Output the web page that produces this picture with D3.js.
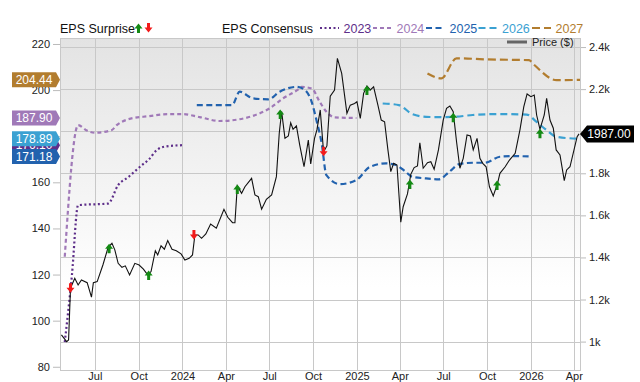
<!DOCTYPE html>
<html>
<head>
<meta charset="utf-8">
<script src="https://cdn.jsdelivr.net/npm/d3@7"></script>
<style>
  body { margin: 0; background: #fff; }
  svg { display: block; font-family: "Liberation Sans", Arial, sans-serif; }
  .axis text { font-size: 11px; fill: #222; }
  .axis path { display: none; }
  .axis line { stroke: #bbb; }
</style>
</head>
<body>
<div id="chart"></div>
<script>
// price series
var priceData = [
  ["2023-04-22",1032],["2023-05-03",1000],["2023-05-07",1008],["2023-05-11",1254],["2023-05-20",1301],
  ["2023-05-27",1269],["2023-06-03",1293],["2023-06-15",1280],["2023-06-24",1211],["2023-06-28",1280],
  ["2023-07-06",1285],["2023-07-18",1364],["2023-07-29",1448],["2023-08-06",1467],["2023-08-12",1436],
  ["2023-08-19",1372],["2023-08-27",1353],["2023-09-03",1360],["2023-09-12",1317],["2023-09-23",1372],
  ["2023-10-02",1364],["2023-10-11",1344],["2023-10-20",1317],["2023-10-27",1333],["2023-11-05",1432],
  ["2023-11-10",1412],["2023-11-17",1455],["2023-11-24",1439],["2023-12-01",1480],["2023-12-10",1439],
  ["2023-12-19",1432],["2023-12-29",1417],["2024-01-06",1388],["2024-01-15",1396],["2024-01-22",1412],
  ["2024-01-27",1507],["2024-02-03",1507],["2024-02-10",1491],["2024-02-19",1512],["2024-02-29",1559],
  ["2024-03-12",1539],["2024-03-28",1629],["2024-04-05",1591],["2024-04-15",1565],["2024-04-20",1565],
  ["2024-04-25",1740],["2024-05-04",1705],["2024-05-11",1736],["2024-05-25",1776],["2024-06-01",1697],
  ["2024-06-08",1689],["2024-06-15",1629],["2024-06-25",1676],["2024-07-06",1697],["2024-07-16",1784],
  ["2024-07-22",1990],["2024-07-27",2093],["2024-08-03",1966],["2024-08-10",1977],["2024-08-15",2040],
  ["2024-08-20",2009],["2024-08-27",2025],["2024-09-03",1934],["2024-09-12",1831],["2024-09-21",1958],
  ["2024-09-26",1844],["2024-10-04",1966],["2024-10-09",2006],["2024-10-16",2101],["2024-10-23",1902],
  ["2024-10-30",1930],["2024-11-06",2167],["2024-11-15",2196],["2024-11-21",2346],["2024-11-30",2275],
  ["2024-12-11",2085],["2024-12-18",2124],["2024-12-27",2132],["2025-01-01",2140],["2025-01-08",2061],
  ["2025-01-15",2180],["2025-01-22",2215],["2025-01-29",2196],["2025-02-05",2211],["2025-02-14",2124],
  ["2025-02-21",2053],["2025-02-28",2045],["2025-03-07",1911],["2025-03-13",1808],["2025-03-19",1847],
  ["2025-03-26",1839],["2025-04-03",1568],["2025-04-08",1641],["2025-04-17",1702],["2025-04-24",1795],
  ["2025-05-01",1827],["2025-05-08",1835],["2025-05-13",1945],["2025-05-20",1824],["2025-05-29",1850],
  ["2025-06-05",1855],["2025-06-12",1819],["2025-06-21",1911],["2025-07-01",2053],["2025-07-08",2109],
  ["2025-07-15",2120],["2025-07-22",2093],["2025-07-29",1950],["2025-08-05",1824],["2025-08-12",1871],
  ["2025-08-20",1982],["2025-08-27",1977],["2025-09-02",1911],["2025-09-10",1966],["2025-09-16",1871],
  ["2025-09-22",1847],["2025-09-29",1831],["2025-10-06",1736],["2025-10-14",1692],["2025-10-23",1752],
  ["2025-10-28",1800],["2025-11-08",1831],["2025-11-17",1863],["2025-11-29",1895],["2025-12-09",2006],
  ["2025-12-17",2116],["2025-12-24",2177],["2026-01-01",2164],["2026-01-08",2172],["2026-01-13",2077],
  ["2026-01-20",2009],["2026-01-29",2077],["2026-02-03",2156],["2026-02-10",2053],["2026-02-17",2014],
  ["2026-02-23",1911],["2026-03-03",1887],["2026-03-12",1765],["2026-03-17",1816],["2026-03-24",1831],
  ["2026-04-08",1974],["2026-04-12",1987]
];

// EPS consensus by fiscal year
var eps2023 = [["2023-04-29",90.7],["2023-05-14",119.7],["2023-05-27",150.1],["2023-07-29",150.8],
  ["2023-08-19",158.8],["2023-09-10",162.4],["2023-10-08",167.5],["2023-10-22",169.8],["2023-11-08",174.0],
  ["2023-11-25",175.5],["2023-12-31",176.1]];
var eps2024 = [["2023-04-29",127.7],["2023-05-27",184.8],["2023-06-13",182.6],["2023-07-01",181.5],
  ["2023-08-05",182.6],["2023-08-16",184.8],["2023-09-10",187.4],["2023-10-22",188.7],["2023-12-03",189.6],
  ["2023-12-31",189.6],["2024-02-06",188.3],["2024-03-19",186.6],["2024-04-28",187.3],["2024-05-26",188.7],
  ["2024-07-02",192.1],["2024-07-30",196.4],["2024-08-31",200.3],["2024-09-07",201.4],["2024-09-28",200.7],
  ["2024-10-15",194.9],["2024-10-29",190.6],["2024-11-15",188.2],["2024-12-31",187.9]];
var eps2025 = [["2024-01-31",193.5],["2024-04-14",193.5],["2024-04-30",199.3],["2024-05-28",196.4],
  ["2024-06-29",196.0],["2024-07-23",199.3],["2024-08-27",201.4],["2024-09-14",200.0],["2024-09-28",194.9],
  ["2024-10-08",187.0],["2024-10-19",176.9],["2024-10-29",163.1],["2024-11-26",159.2],["2024-12-31",161.0],
  ["2025-01-28",166.7],["2025-03-03",168.2],["2025-03-24",167.5],["2025-04-13",164.6],["2025-04-27",162.4],
  ["2025-05-26",161.7],["2025-06-22",161.3],["2025-07-14",164.6],["2025-08-04",167.9],["2025-09-01",168.5],
  ["2025-09-26",168.5],["2025-10-28",171.1],["2025-11-25",171.4],["2025-12-31",171.18]];
var eps2026 = [["2025-02-24",194.2],["2025-03-30",193.5],["2025-04-27",189.6],["2025-05-26",188.4],
  ["2025-06-22",188.3],["2025-07-22",188.4],["2025-09-01",189.2],["2025-10-28",189.6],["2025-12-23",189.4],
  ["2026-01-13",186.2],["2026-02-03",182.6],["2026-02-24",179.7],["2026-04-14",178.89]];
var eps2027 = [["2025-05-29",207.2],["2025-06-27",205.1],["2025-07-29",213.8],["2025-10-01",213.3],
  ["2025-12-28",213.0],["2026-01-06",211.3],["2026-02-24",204.3],["2026-04-14",204.44]];

// EPS surprises: date, price, direction
var surprises = [["2023-05-11",1254,"down"],["2023-07-31",1444,"up"],["2023-10-22",1317,"up"],
  ["2024-01-25",1507,"down"],["2024-04-25",1725,"up"],["2024-07-24",2082,"up"],["2024-10-23",1902,"down"],
  ["2025-01-22",2196,"up"],["2025-04-22",1749,"up"],["2025-07-22",2066,"up"],["2025-10-22",1744,"up"],
  ["2026-01-20",1990,"up"]];

var epsTicks = [80, 100, 120, 140, 160, 180, 200, 220];
var priceTicks = [1000, 1200, 1400, 1600, 1800, 2000, 2200, 2400];
var lastPrice = 1987.00;

// series styling
var series = [
  {name: "2023", data: eps2023, color: "#5e2f8a", dash: "2,2.5", label: 176.10},
  {name: "2024", data: eps2024, color: "#a079b8", dash: "4,3", label: 187.90},
  {name: "2025", data: eps2025, color: "#2262ae", dash: "6,3.5", label: 171.18},
  {name: "2026", data: eps2026, color: "#3ba1d2", dash: "7,4", label: 178.89},
  {name: "2027", data: eps2027, color: "#b27d2f", dash: "8,4", label: 204.44}
];

var W = 640, H = 382;
var plot = {left: 60, right: 580, top: 38, bottom: 370};
var parse = d3.timeParse("%Y-%m-%d");

var x = d3.scaleTime().domain([parse("2023-04-19"), parse("2026-04-14")]).range([plot.left, plot.right]);
var yP = d3.scaleLinear().domain([865, 2443]).range([plot.bottom, plot.top]);
var yE = d3.scaleLinear().domain([78.6, 222.6]).range([plot.bottom, plot.top]);

var svg = d3.select("#chart").append("svg").attr("width", W).attr("height", H);

var defs = svg.append("defs");
var grad = defs.append("linearGradient").attr("id", "bg").attr("x1", 0).attr("y1", 0).attr("x2", 0).attr("y2", 1);
grad.append("stop").attr("offset", "0%").attr("stop-color", "#e3e3e3");
grad.append("stop").attr("offset", "75%").attr("stop-color", "#ffffff");
defs.append("clipPath").attr("id", "clip").append("rect")
  .attr("x", plot.left).attr("y", plot.top)
  .attr("width", plot.right - plot.left).attr("height", plot.bottom - plot.top);

svg.append("rect").attr("x", plot.left).attr("y", plot.top)
  .attr("width", plot.right - plot.left).attr("height", plot.bottom - plot.top)
  .attr("fill", "url(#bg)");

// grid
var quarterTicks = d3.timeMonth.every(3).range(parse("2023-07-01"), parse("2026-04-15"));
svg.append("g").selectAll("line").data(quarterTicks).enter().append("line")
  .attr("x1", d => Math.round(x(d)) + 0.5).attr("x2", d => Math.round(x(d)) + 0.5)
  .attr("y1", plot.top).attr("y2", plot.bottom)
  .attr("stroke", "#c8c8c8");
svg.append("g").selectAll("line").data(priceTicks).enter().append("line")
  .attr("x1", plot.left).attr("x2", plot.right)
  .attr("y1", d => Math.round(yP(d)) + 0.5).attr("y2", d => Math.round(yP(d)) + 0.5)
  .attr("stroke", "#c8c8c8");

// border
svg.append("rect").attr("x", plot.left + 0.5).attr("y", plot.top + 0.5)
  .attr("width", plot.right - plot.left).attr("height", plot.bottom - plot.top)
  .attr("fill", "none").attr("stroke", "#c8c8c8");

// axes
svg.append("g").attr("class", "axis").attr("transform", "translate(" + plot.left + ",0)")
  .call(d3.axisLeft(yE).tickValues(epsTicks).tickSize(7).tickPadding(3));
svg.append("g").attr("class", "axis").attr("transform", "translate(" + (plot.right + 1) + ",0)")
  .call(d3.axisRight(yP).tickValues(priceTicks).tickSize(5).tickPadding(3)
    .tickFormat(d => d === 1000 ? "1k" : d3.format(".1~f")(d / 1000) + "k"));
var monthFmt = d3.timeFormat("%b");
svg.append("g").attr("class", "axis").attr("transform", "translate(0," + plot.bottom + ")")
  .call(d3.axisBottom(x).tickValues(quarterTicks).tickSize(0).tickPadding(2)
    .tickFormat(d => d.getMonth() === 0 ? d.getFullYear() : monthFmt(d)));

// lines
var plotArea = svg.append("g").attr("clip-path", "url(#clip)");
var epsLine = d3.line().x(d => x(parse(d[0]))).y(d => yE(d[1])).curve(d3.curveMonotoneX);
series.forEach(function(s) {
  plotArea.append("path").datum(s.data)
    .attr("d", epsLine).attr("fill", "none")
    .attr("stroke", s.color).attr("stroke-width", 2.2)
    .attr("stroke-dasharray", s.dash);
});

var priceLine = d3.line().x(d => x(parse(d[0]))).y(d => yP(d[1]));
plotArea.append("path").datum(priceData)
  .attr("d", priceLine).attr("fill", "none")
  .attr("stroke", "#111").attr("stroke-width", 1.1);

// surprise arrows
function arrowPath(dir) {
  if (dir === "up") return "M-4,0.5 L0,-4.5 L4,0.5 L1.5,0.5 L1.5,5 L-1.5,5 L-1.5,0.5 Z";
  return "M-4,-0.5 L0,4.5 L4,-0.5 L1.5,-0.5 L1.5,-5 L-1.5,-5 L-1.5,-0.5 Z";
}
svg.append("g").selectAll("path").data(surprises).enter().append("path")
  .attr("transform", d => "translate(" + x(parse(d[0])) + "," + yP(d[1]) + ")")
  .attr("d", d => arrowPath(d[2]))
  .attr("fill", d => d[2] === "up" ? "#148a14" : "#f21b1b");

// left value labels
var labels = svg.append("g");
series.forEach(function(s) {
  var cy = yE(s.label);
  labels.append("path")
    .attr("d", "M12," + (cy - 7.5) + " L56," + (cy - 7.5) + " L60," + cy + " L56," + (cy + 7.5) + " L12," + (cy + 7.5) + " Z")
    .attr("fill", s.color);
  labels.append("text").attr("x", 34).attr("y", cy + 4.2)
    .attr("text-anchor", "middle").attr("fill", "#fff").attr("font-size", 12)
    .text(s.label.toFixed(2));
});

// last price label
var py = yP(lastPrice);
svg.append("path")
  .attr("d", "M580," + py + " L587," + (py - 8.5) + " L634," + (py - 8.5) + " L634," + (py + 8.5) + " L587," + (py + 8.5) + " Z")
  .attr("fill", "#000");
svg.append("text").attr("x", 609).attr("y", py + 4.3)
  .attr("text-anchor", "middle").attr("fill", "#fff").attr("font-size", 12)
  .text(lastPrice.toFixed(2));

// price legend inside plot
svg.append("line").attr("x1", 507).attr("x2", 527).attr("y1", 42).attr("y2", 42)
  .attr("stroke", "#666").attr("stroke-width", 3);
svg.append("text").attr("x", 532).attr("y", 46).attr("font-size", 11).attr("fill", "#222").text("Price ($)");

// top legend
var legend = svg.append("g").attr("font-size", 12.5);
legend.append("text").attr("x", 60).attr("y", 33).attr("fill", "#111").text("EPS Surprise");
legend.append("path").attr("transform", "translate(138.5,28)").attr("d", arrowPath("up")).attr("fill", "#148a14");
legend.append("path").attr("transform", "translate(148.5,28)").attr("d", arrowPath("down")).attr("fill", "#f21b1b");
legend.append("text").attr("x", 222).attr("y", 33).attr("fill", "#111").text("EPS Consensus");
var legendX = [320, 373, 426, 478.5, 532];
series.forEach(function(s, i) {
  legend.append("line").attr("x1", legendX[i]).attr("x2", legendX[i] + 19)
    .attr("y1", 28).attr("y2", 28)
    .attr("stroke", s.color).attr("stroke-width", 2.2).attr("stroke-dasharray", s.dash);
  legend.append("text").attr("x", legendX[i] + 23.5).attr("y", 33).attr("fill", s.color).text(s.name);
});
</script>
</body>
</html>
